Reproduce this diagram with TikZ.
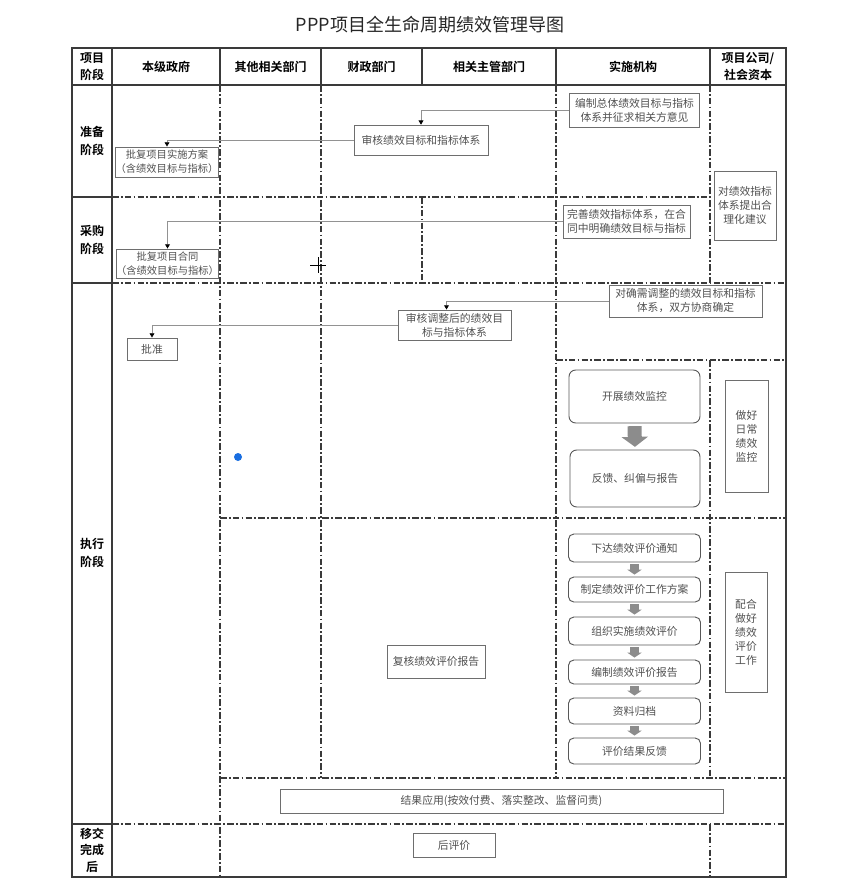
\documentclass[tikz,border=0pt]{standalone}
\usepackage{fontspec}
\setmainfont{Noto Sans CJK SC}[BoldFont={Noto Sans CJK SC Bold}]
\usetikzlibrary{arrows.meta,positioning,calc}
\definecolor{LineDark}{RGB}{58,58,58}
\definecolor{BoxGray}{RGB}{110,110,110}
\definecolor{TextGray}{RGB}{80,80,80}
\definecolor{ArrowGray}{RGB}{140,140,140}
\definecolor{CursorBlue}{RGB}{25,110,225}

\begin{document}
\begin{tikzpicture}[x=0.75pt,y=-0.75pt,
      solidline/.style={LineDark,line width=0.9pt},
      dashline/.style={LineDark,line width=1.1pt,dash pattern=on 5pt off 1.6pt on 1.4pt off 1.6pt},
      head/.style={align=center,text=black,font=\fontsize{9}{12.5}\selectfont\bfseries},
      lane/.style={head,font=\fontsize{9}{13.5}\selectfont\bfseries},
      box/.style={draw=BoxGray,line width=0.7pt,align=center,inner sep=1pt,
        text=TextGray,font=\fontsize{8.1}{10.5}\selectfont},
      rbox/.style={box,draw=LineDark!85,rounded corners=5pt,minimum width=99pt},
      link/.style={draw=BoxGray!75,line width=0.6pt,
        -{Triangle[color=black,length=3.2pt,width=3.6pt]}},
      bigflow/.style={ArrowGray,line width=10.5pt,-{Triangle[length=7.5pt,width=19.5pt]},
        shorten <=2pt,shorten >=2pt},
      flow/.style={ArrowGray,line width=7pt,-{Triangle[length=3.6pt,width=10.5pt]},
        shorten <=1.5pt,shorten >=1.5pt}
    ]
    \useasboundingbox (0,0) rectangle (860,889);
    \node[font=\fontsize{13.5}{15}\selectfont,text=black!85] (title) at (430,25)
      {PPP项目全生命周期绩效管理导图};

    % 表格：实线外框与泳道虚线
    \draw[solidline] (72,48) rectangle (786,877);
    \draw[solidline] (72,85) -- (786,85);
    \foreach \x in {112,220,321,422,556,710}{
      \draw[solidline] (\x,48) -- (\x,85);
    }
    \draw[solidline] (112,85) -- (112,877);
    \foreach \y in {197,283,824}{
      \draw[solidline] (72,\y) -- (112,\y);
    }
    \draw[dashline] (220,85) -- (220,877);
    \draw[dashline] (321,85) -- (321,778);
    \draw[dashline] (422,197) -- (422,283);
    \draw[dashline] (556,85) -- (556,778);
    \draw[dashline] (710,85) -- (710,283);
    \draw[dashline] (710,360) -- (710,778);
    \draw[dashline] (710,824) -- (710,877);
    \draw[dashline] (112,197) -- (710,197);
    \draw[dashline] (112,283) -- (786,283);
    \draw[dashline] (556,360) -- (786,360);
    \draw[dashline] (220,518) -- (786,518);
    \draw[dashline] (220,778) -- (786,778);
    \draw[dashline] (112,824) -- (786,824);

    \node[head] (h0) at (92,66.5) {项目\\阶段};
    \node[head] (h1) at (166,66.5) {本级政府};
    \node[head] (h2) at (270.5,66.5) {其他相关部门};
    \node[head] (h3) at (371.5,66.5) {财政部门};
    \node[head] (h4) at (489,66.5) {相关主管部门};
    \node[head] (h5) at (633,66.5) {实施机构};
    \node[head] (h6) at (748,66.5) {项目公司/\\社会资本};

    \node[lane] (r1) at (92,141) {准备\\阶段};
    \node[lane] (r2) at (92,240) {采购\\阶段};
    \node[lane] (r3) at (92,553) {执行\\阶段};
    \node[lane,font=\fontsize{9}{12.3}\selectfont\bfseries] (r4) at (92,850) {移交\\完成\\后};

    % 准备阶段
    \node[box,minimum width=98pt,minimum height=26pt] (bz) at (634.5,110.5)
      {编制总体绩效目标与指标\\体系并征求相关方意见};
    \node[box,minimum width=100.5pt,minimum height=23pt] (sh) at (421,140.5)
      {审核绩效目标和指标体系};
    \node[box,minimum width=76.5pt,minimum height=22.5pt,inner xsep=0pt,
      font=\fontsize{7.7}{10.5}\selectfont] (pf1) at (167,162)
      {批复项目实施方案\\（含绩效目标与指标）};
    \node[box,minimum width=46.5pt,minimum height=51.75pt] (jy) at (745,205.5)
      {对绩效指标\\体系提出合\\理化建议};
    \draw[link] (bz.west) -| (sh.north);
    \draw[link] (sh.west) -| (pf1.north);

    % 采购阶段
    \node[box,minimum width=95.25pt,minimum height=24.75pt] (ws) at (626.5,221.5)
      {完善绩效指标体系，在合\\同中明确绩效目标与指标};
    \node[box,minimum width=75.75pt,minimum height=21.75pt,inner xsep=0pt,
      font=\fontsize{7.7}{10.5}\selectfont] (pf2) at (167.5,263.5)
      {批复项目合同\\（含绩效目标与指标）};
    \draw[link] (ws.west) -| (pf2.north);

    % 执行阶段
    \node[box,minimum width=114.75pt,minimum height=24pt] (qr) at (685.5,301)
      {对确需调整的绩效目标和指标\\体系，双方协商确定};
    \node[box,minimum width=84.75pt,minimum height=22.5pt] (tz) at (454.5,325)
      {审核调整后的绩效目\\标与指标体系};
    \node[box,minimum width=37.5pt,minimum height=16.5pt] (pz) at (152,349) {批准};
    \draw[link] (qr.west) -| ([xshift=-6pt]tz.north);
    \draw[link] (tz.west) -| (pz.north);

    \node[rbox,minimum width=98.25pt,minimum height=39.75pt] (jk) at (634.5,396.5) {开展绩效监控};
    \node[rbox,minimum width=97.5pt,minimum height=42.75pt] (fk) at (635,478.5) {反馈、纠偏与报告};
    \draw[bigflow] (jk.south) -- (fk.north);
    \node[box,minimum width=32.25pt,minimum height=84pt] (rc) at (746.5,436)
      {做好\\日常\\绩效\\监控};

    \foreach \n/\y/\h/\t in {
      1/548/21/下达绩效评价通知,2/589.5/18.75/制定绩效评价工作方案,
      3/631/21/组织实施绩效评价,4/672/18/编制绩效评价报告,
      5/711/19.5/资料归档,6/751/19.5/评价结果反馈}{
      \node[rbox,minimum height=\h pt,rounded corners=4pt] (e\n) at (634.5,\y) {\t};
    }
    \foreach \a/\b in {1/2,2/3,3/4,4/5,5/6}{
      \draw[flow] (e\a.south) -- (e\b.north);
    }
    \node[box,minimum width=31.5pt,minimum height=90pt] (ph) at (746,632)
      {配合\\做好\\绩效\\评价\\工作};
    \node[box,minimum width=73.5pt,minimum height=24.75pt] (fh) at (436,661.5) {复核绩效评价报告};
    \node[box,minimum width=332.25pt,minimum height=18pt] (yy) at (501.5,801)
      {结果应用(按效付费、落实整改、监督问责)};

    % 移交完成后
    \node[box,minimum width=61.5pt,minimum height=18pt] (hp) at (454,845) {后评价};

    % 截图中的光标
    \draw[black,line width=0.6pt] (310,265) -- (326,265) (318,257) -- (318,273);
    \fill[CursorBlue] (238,457) circle (3pt);
  \end{tikzpicture}
\end{document}
